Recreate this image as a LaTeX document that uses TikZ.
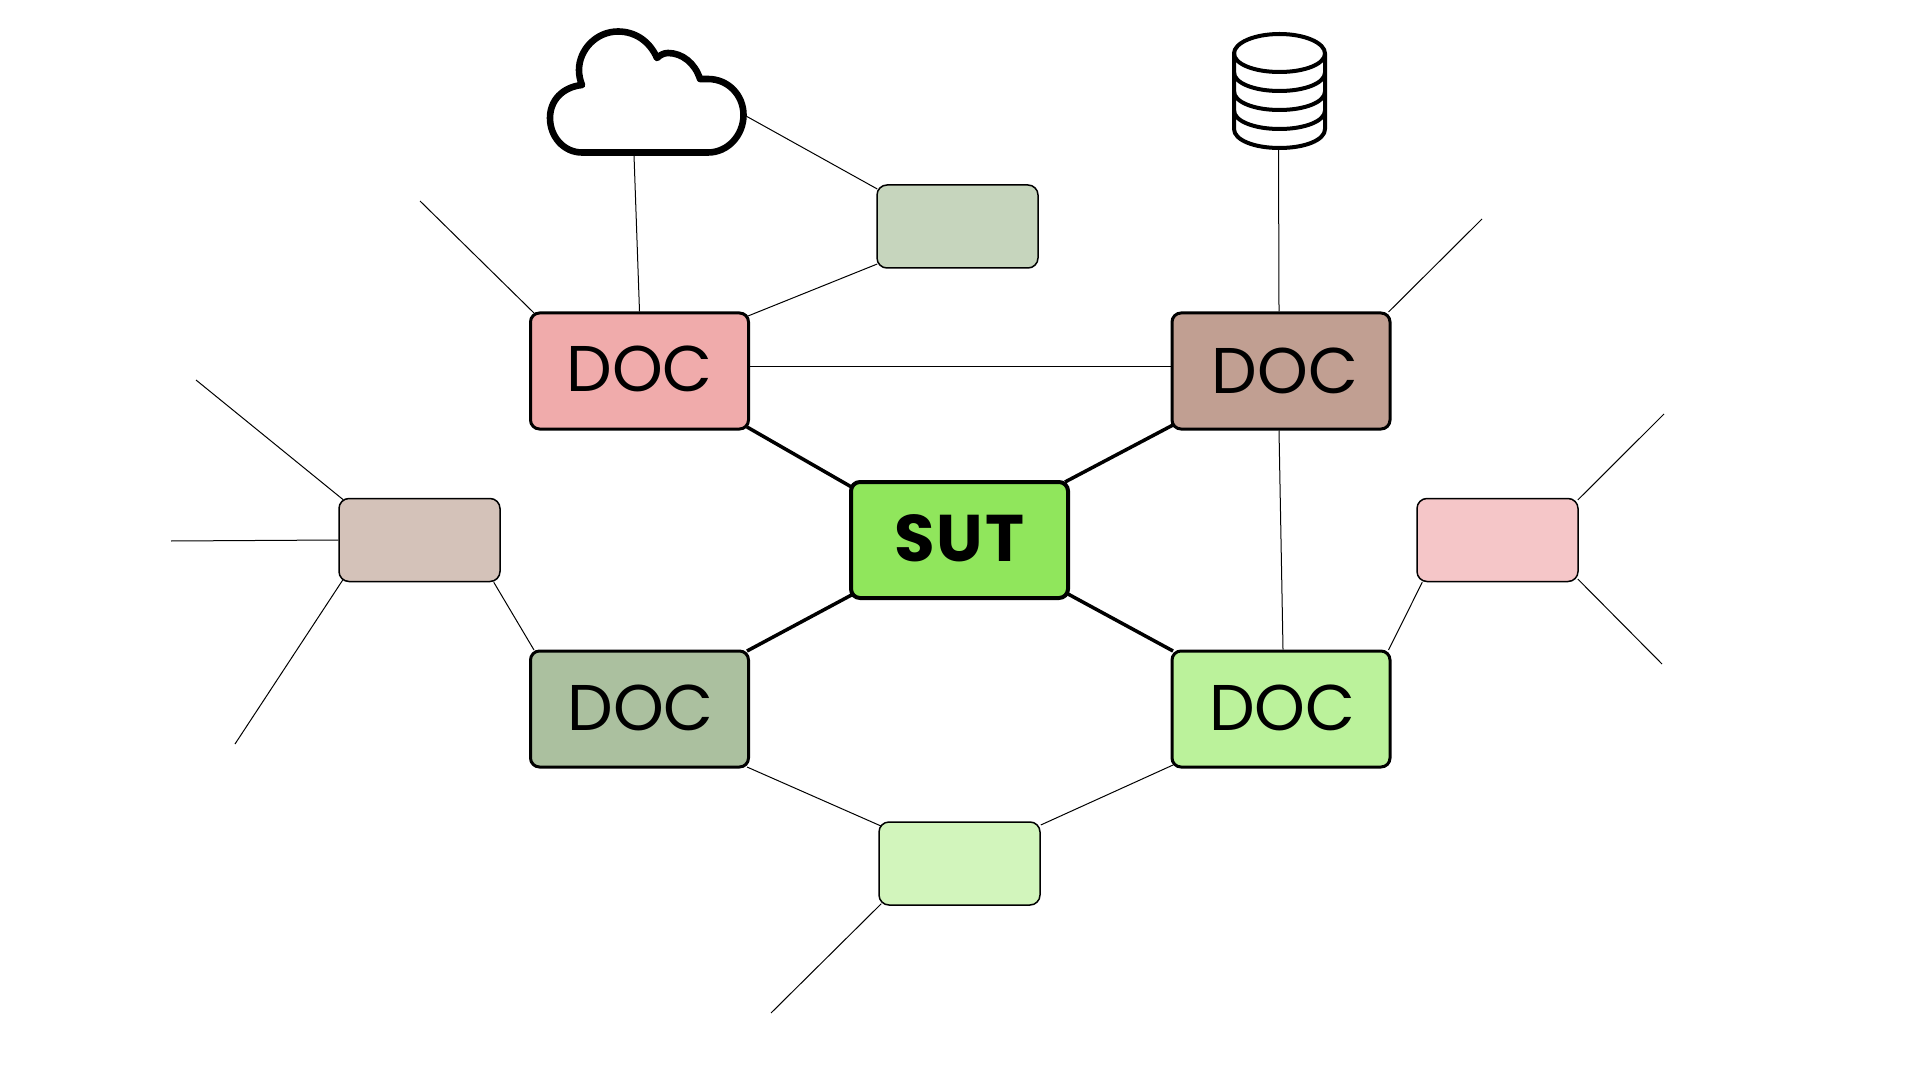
\documentclass[tikz,border=0pt]{standalone}
\usepackage{fontspec}
\usetikzlibrary{backgrounds,calc}
\newfontfamily\docfont{Poppins}
\newfontfamily\sutfont[LetterSpace=3]{Poppins Bold}
\definecolor{cpink}{HTML}{F0ABAB}
\definecolor{cbrown}{HTML}{C19F92}
\definecolor{cdgreen}{HTML}{ABC09F}
\definecolor{clgreen}{HTML}{BBF29B}
\definecolor{csut}{HTML}{90E65C}
\definecolor{cgg}{HTML}{C6D5BD}
\definecolor{cbl}{HTML}{D4C2B9}
\definecolor{cpl}{HTML}{F5C6C8}
\definecolor{cgl}{HTML}{D2F5BC}
\newcommand{\shifted}[3]{\hspace*{#1}\raisebox{#2}{#3}}
\tikzset{
  x=0.5pt,y=-0.5pt,
  px/.style n args={2}{xshift=#1*0.5pt,yshift=-#2*0.5pt},
  docbox/.style={draw=black,line width=1.5pt,rounded corners=4.5pt,minimum width=109pt,minimum height=58pt,inner sep=0pt,font=\docfont\fontsize{32.3}{32}\selectfont,text=black},
  sutbox/.style={draw=black,line width=2pt,rounded corners=4.5pt,minimum width=108.5pt,minimum height=58pt,inner sep=0pt,fill=csut,font=\sutfont\fontsize{33}{33}\selectfont,text=black},
  smallbox/.style={draw=black,line width=0.75pt,rounded corners=5pt,minimum width=80.5pt,minimum height=41.5pt,inner sep=0pt},
  thin link/.style={draw=black,line width=0.5pt},
  thick link/.style={draw=black,line width=1.75pt},
  icon/.style={draw=black,line join=round,line cap=round,fill=white},
}
\begin{document}
\begin{tikzpicture}
\useasboundingbox (0,0) rectangle (1920,1080);
\node[sutbox] (sut) at (959.5,540) {\raisebox{2.2pt}{SUT}};
\node[docbox,fill=cpink] (doc1) at (639.5,371) {\raisebox{2.6pt}{DOC}};
\node[docbox,fill=cbrown] (doc2) at (1281,371) {\shifted{4pt}{0.5pt}{DOC}};
\node[docbox,fill=cdgreen] (doc3) at (639.5,709) {\shifted{1.2pt}{0.9pt}{DOC}};
\node[docbox,fill=clgreen] (doc4) at (1281,709) {\shifted{1.2pt}{1.5pt}{DOC}};
\node[smallbox,fill=cgg] (bgg) at (957.5,226.5) {};
\node[smallbox,fill=cbl] (bbl) at (419.5,540) {};
\node[smallbox,fill=cpl] (bpl) at (1497.5,540) {};
\node[smallbox,fill=cgl] (bgl) at (959.5,863.5) {};
% cloud
\draw[icon,line width=3.3pt] (582,152.5) -- (708,152.5)
 .. controls (728,152.5) and (743.5,135) .. (743.5,115)
 .. controls (743.5,95) and (728,79) .. (708,79)
 -- (700,79)
 .. controls (695,63) and (682,53) .. (668,53)
 .. controls (664,53) and (660,55) .. (657,58)
 .. controls (650,42) and (636,31.5) .. (618,31.5)
 .. controls (596,31.5) and (579,50) .. (579,70)
 .. controls (579,75) and (580,80) .. (582,85)
 .. controls (563,87) and (550,100) .. (550,118)
 .. controls (550,137) and (564,152.5) .. (582,152.5) -- cycle;
\coordinate (cloudb) at (634,155);
\coordinate (cloudr) at (746,116);
% database
\draw[icon,line width=2pt] (1234,53.5) -- (1234,129)
 .. controls (1234,140) and (1254,148) .. (1279.5,148)
 .. controls (1305,148) and (1325,140) .. (1325,129) -- (1325,53.5);
\foreach \yy in {0,19,38,57}{
 \draw[icon,fill=none,line width=2pt] (1234,53.5+\yy) .. controls (1234,64+\yy) and (1254,72+\yy) .. (1279.5,72+\yy)
   .. controls (1305,72+\yy) and (1325,64+\yy) .. (1325,53.5+\yy);
}
\draw[icon,fill=none,line width=2pt] (1234,53.5) .. controls (1234,43) and (1254,34) .. (1279.5,34)
   .. controls (1305,34) and (1325,43) .. (1325,53.5);
\coordinate (dbb) at (1278.5,150);
% free ends
\coordinate (f1) at (420,201);
\coordinate (f2) at (1482,219);
\coordinate (f3) at (1664,414);
\coordinate (f4) at (1662,664);
\coordinate (f5) at (196,380);
\coordinate (f6) at (171,541);
\coordinate (f7) at (235,744);
\coordinate (f8) at (771,1013);
\begin{scope}[on background layer]
\draw[thick link] ([px={2.5}{7}]sut.north west) -- ([px={-3}{-3.5}]doc1.south east);
\draw[thick link] ([px={-5}{2}]sut.north east) -- ([px={2.5}{-5.5}]doc2.south west);
\draw[thick link] ([px={2.5}{-5}]sut.south west) -- ([px={-3}{1.5}]doc3.north east);
\draw[thick link] ([px={-2}{-6}]sut.south east) -- ([px={2.5}{1.5}]doc4.north west);
\draw[thin link] ([px={5}{1.5}]doc1.north west) -- (f1);
\draw[thin link] (doc1.north) -- (cloudb);
\draw[thin link] (cloudr) -- ([px={1}{-37.5}]bgg.west);
\draw[thin link] ([px={-2}{-55}]doc1.east) -- ([px={1}{37.5}]bgg.west);
\draw[thin link] ([px={0}{-4.5}]doc1.east) -- ([px={0}{-4.5}]doc2.west);
\draw[thin link] ([px={-2}{0}]doc2.north) -- (dbb);
\draw[thin link] ([px={-3}{0.5}]doc2.north east) -- (f2);
\draw[thin link] ([px={-2}{0}]doc2.south) -- ([px={2}{0}]doc4.north);
\draw[thin link] ([px={-3}{0.5}]doc4.north east) -- ([px={6}{0}]bpl.south west);
\draw[thin link] ([px={-1}{-40}]bpl.east) -- (f3);
\draw[thin link] ([px={-1}{39}]bpl.east) -- (f4);
\draw[thin link] ([px={5}{0.5}]doc3.north west) -- ([px={-7}{0}]bbl.south east);
\draw[thin link] ([px={5}{2}]bbl.north west) -- (f5);
\draw[thin link] (bbl.west) -- (f6);
\draw[thin link] ([px={5}{-3}]bbl.south west) -- (f7);
\draw[thin link] ([px={-3}{-1.5}]doc3.south east) -- ([px={5}{-36.5}]bgl.west);
\draw[thin link] ([px={2.5}{-3.5}]doc4.south west) -- ([px={0}{-38.5}]bgl.east);
\draw[thin link] ([px={3}{-2}]bgl.south west) -- (f8);
\end{scope}
\end{tikzpicture}
\end{document}
